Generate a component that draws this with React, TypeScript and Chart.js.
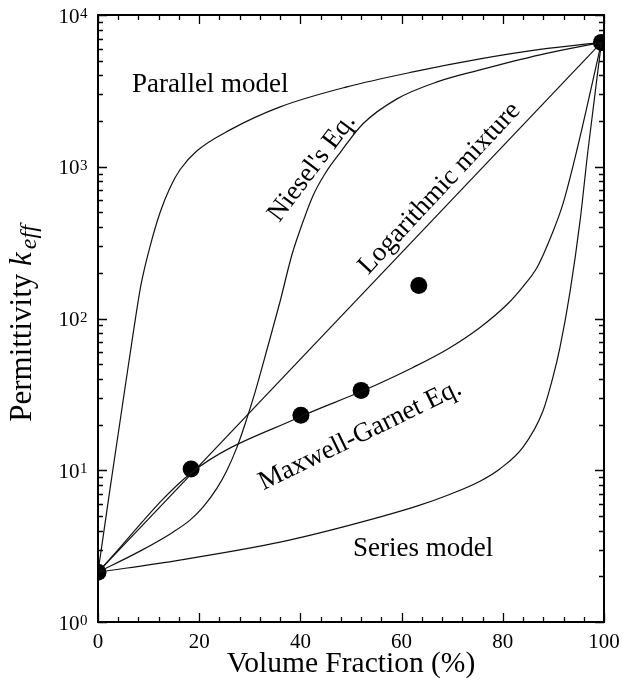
import React, { useEffect, useRef } from 'react';
import { Chart, registerables } from 'chart.js';
Chart.register(...registerables);

// ---- data (volume fraction %, permittivity) ----
const parallelX = [0, 2.37, 4.94, 6.92, 8.5, 10.28, 12.25, 14.23, 16.2, 19.57, 26.1, 36, 49.2, 62.25, 75.5, 87.35, 99.5];
const parallelY = [2.13, 7.5, 28.4, 78.5, 167, 298, 498, 728, 955, 1274, 1750, 2480, 3360, 4217, 5136, 5931, 6600];

const nieselX = [0, 8.3, 14.82, 18.18, 20.75, 23.52, 25.49, 27.47, 29.05, 31.03, 33.4, 35.97, 38.34, 40.51, 42.49, 44.86, 47.83, 52.37, 59.09, 67, 75.5, 87.35, 99.5];
const nieselY = [2.13, 2.93, 3.91, 4.69, 5.71, 7.62, 10.0, 14.2, 20.1, 32.6, 62.5, 129, 264, 434, 644, 899, 1236, 1919, 2800, 3622, 4347, 5460, 6600];

const logMixX = [0, 99.5];
const logMixY = [2.13, 6600];

const maxwellX = [0, 18.4, 40.1, 52, 62.25, 68.97, 75.5, 80.83, 84.0, 86.76, 89.9, 91.9, 94.66, 99.5];
const maxwellY = [2.13, 9.6, 22.6, 33, 47.6, 62.5, 87.3, 123.6, 162.4, 216.6, 373, 571, 1294, 6600];

const seriesX = [0, 16.2, 35.97, 49.8, 63.0, 69.6, 75.5, 79.4, 84.0, 87.9, 89.9, 91.3, 93.3, 95.3, 96.8, 99.5];
const seriesY = [2.13, 2.56, 3.36, 4.35, 5.8, 6.95, 8.47, 10.2, 14.2, 24.4, 40.9, 64.5, 151, 448, 1256, 6600];

const expX = [0, 18.4, 40.1, 52, 63.4, 99.5];
const expY = [2.13, 10.2, 23, 33.6, 165, 6600];

// ---- axis ticks / labels ----
const xMajorTicks = [0, 20, 40, 60, 80, 100];
const xTickLabels = ['0', '20', '40', '60', '80', '100'];
const xMinorTicks = [4, 8, 12, 16, 24, 28, 32, 36, 44, 48, 52, 56, 64, 68, 72, 76, 84, 88, 92, 96];
const yDecades = [0, 1, 2, 3, 4];
const yMinorMultipliers = [2, 3, 4, 5, 6, 7, 8, 9];

// ---- text labels (anchored in data coords) ----
const labelTexts = ['Parallel model', 'Series model', "Niesel's Eq.", 'Logarithmic mixture', 'Maxwell-Garnet Eq.'];
const labelX = [6.7, 50.4, 42.3, 67.5, 51.8];
const labelY = [3114, 2.72, 985, 720, 17];
const labelAngle = [0, 0, -53, -47, -26];

const SERIF = "'Liberation Serif', 'Times New Roman', serif";

const zip = (xs: number[], ys: number[]) => xs.map((x, i) => ({ x, y: ys[i] }));

const decorPlugin = {
  id: 'decor',
  afterDraw(chart: any) {
    const { ctx, chartArea: a, scales } = chart;
    const xs = scales.x;
    const ys = scales.y;
    ctx.save();
    ctx.strokeStyle = '#000';
    ctx.fillStyle = '#000';
    // ticks (inward, on all four sides)
    ctx.lineWidth = 1.3;
    const major = 9;
    const minor = 5;
    const vt = (px: number, len: number) => {
      ctx.beginPath();
      ctx.moveTo(px, a.bottom); ctx.lineTo(px, a.bottom - len);
      ctx.moveTo(px, a.top); ctx.lineTo(px, a.top + len);
      ctx.stroke();
    };
    const ht = (py: number, len: number) => {
      ctx.beginPath();
      ctx.moveTo(a.left, py); ctx.lineTo(a.left + len, py);
      ctx.moveTo(a.right, py); ctx.lineTo(a.right - len, py);
      ctx.stroke();
    };
    xMajorTicks.forEach((v) => vt(Math.round(xs.getPixelForValue(v)) + 0.5, major));
    xMinorTicks.forEach((v) => vt(Math.round(xs.getPixelForValue(v)) + 0.5, minor));
    yDecades.forEach((d) => {
      ht(Math.round(ys.getPixelForValue(Math.pow(10, d))) + 0.5, major);
      if (d < 4) yMinorMultipliers.forEach((m) => ht(Math.round(ys.getPixelForValue(m * Math.pow(10, d))) + 0.5, minor));
    });
    // frame
    ctx.lineWidth = 2;
    ctx.strokeRect(a.left, a.top, a.right - a.left, a.bottom - a.top);

    // x tick labels
    ctx.font = `21px ${SERIF}`;
    ctx.textAlign = 'center';
    ctx.textBaseline = 'alphabetic';
    xMajorTicks.forEach((v, i) => ctx.fillText(xTickLabels[i], xs.getPixelForValue(v), a.bottom + 26));
    // y tick labels 10^d
    yDecades.forEach((d) => {
      const py = ys.getPixelForValue(Math.pow(10, d));
      ctx.font = `21px ${SERIF}`;
      ctx.textAlign = 'right';
      ctx.fillText('10', a.left - 18.5, py + 7.5);
      ctx.font = `15px ${SERIF}`;
      ctx.textAlign = 'left';
      ctx.fillText(String(d), a.left - 18, py + 3);
    });

    // x title
    ctx.font = `29.5px ${SERIF}`;
    ctx.textAlign = 'center';
    ctx.fillText('Volume Fraction (%)', (a.left + a.right) / 2, a.bottom + 50);

    // y title
    ctx.save();
    ctx.translate(a.left - 67, (a.top + a.bottom) / 2 + 5);
    ctx.rotate(-Math.PI / 2);
    const mainFont = `31px ${SERIF}`;
    const kFont = `italic 31px ${SERIF}`;
    const subFont = `italic 24px ${SERIF}`;
    ctx.font = mainFont; const w1 = ctx.measureText('Permittivity ').width;
    ctx.font = kFont; const w2 = ctx.measureText('k').width;
    ctx.font = subFont; const w3 = ctx.measureText('eff').width;
    let sx = -(w1 + w2 + 3 + w3) / 2;
    ctx.textAlign = 'left';
    ctx.font = mainFont; ctx.fillText('Permittivity ', sx, 0); sx += w1;
    ctx.font = kFont; ctx.fillText('k', sx, 0); sx += w2 + 3;
    ctx.font = subFont; ctx.fillText('eff', sx, 5);
    ctx.restore();

    // curve labels
    ctx.font = `27px ${SERIF}`;
    labelTexts.forEach((t, i) => {
      const px = xs.getPixelForValue(labelX[i]);
      const py = ys.getPixelForValue(labelY[i]);
      ctx.save();
      ctx.translate(px, py);
      ctx.rotate((labelAngle[i] * Math.PI) / 180);
      if (labelAngle[i] === 0) {
        ctx.textAlign = 'left';
        ctx.textBaseline = 'alphabetic';
      } else {
        ctx.textAlign = 'center';
        ctx.textBaseline = 'middle';
      }
      ctx.fillText(t, 0, 0);
      ctx.restore();
    });
    ctx.restore();
  },
};

export default function App() {
  const ref = useRef<HTMLCanvasElement>(null);
  useEffect(() => {
    document.body.style.margin = '0';
    const curve = (xs: number[], ys: number[]) => ({
      data: zip(xs, ys),
      borderColor: '#111',
      borderWidth: 1.2,
      pointRadius: 0,
      fill: false,
      cubicInterpolationMode: 'monotone' as const,
    });
    const chart = new Chart(ref.current as HTMLCanvasElement, {
      type: 'line',
      data: {
        datasets: [
          curve(parallelX, parallelY),
          curve(nieselX, nieselY),
          curve(logMixX, logMixY),
          curve(maxwellX, maxwellY),
          curve(seriesX, seriesY),
          {
            data: zip(expX, expY),
            showLine: false,
            pointRadius: 8.5,
            pointBackgroundColor: '#000',
            pointBorderWidth: 0,
            borderColor: '#000',
            clip: 0,
          } as any,
        ],
      },
      options: {
        responsive: false,
        animation: false,
        devicePixelRatio: 1,
        layout: { padding: { left: 98, right: 19, top: 15, bottom: 71 } },
        plugins: { legend: { display: false }, tooltip: { enabled: false } },
        scales: {
          x: { type: 'linear', min: 0, max: 100, display: false },
          y: { type: 'logarithmic', min: 1, max: 10000, display: false },
        },
      },
      plugins: [decorPlugin],
    });
    return () => chart.destroy();
  }, []);
  return (
    <div style={{ position: 'absolute', left: 0, top: 0, width: 623, height: 693, background: '#fff' }}>
      <canvas ref={ref} width={623} height={693} style={{ display: 'block', width: 623, height: 693 }} />
    </div>
  );
}
